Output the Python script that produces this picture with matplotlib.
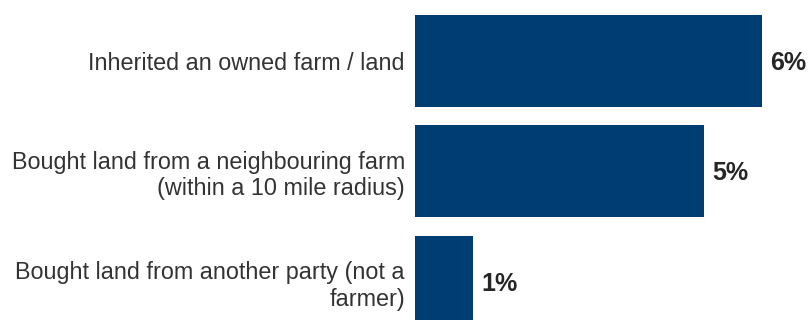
import matplotlib.pyplot as plt

# -------------------------------
# Data
# -------------------------------
categories = [
    "Inherited an owned farm / land",
    "Bought land from a neighbouring farm\n(within a 10 mile radius)",
    "Bought land from another party (not a\nfarmer)",
]
values = [6, 5, 1]
value_labels = ["6%", "5%", "1%"]

plt.rcParams["font.family"] = ["Liberation Sans", "DejaVu Sans"]

fig = plt.figure(figsize=(8.11, 3.2), dpi=100)
# axes start where the bars start; right edge at the figure edge
ax = fig.add_axes([414.7 / 811, 0, 1 - 414.7 / 811, 1])

pos = list(range(len(categories)))
ax.barh(pos, values, height=0.834, color="#003d73", edgecolor="none")

ax.set_xlim(0, (811 - 414.7) / 57.8)
ax.set_ylim((320 - 61) / 110.3, -61 / 110.3)

ax.set_yticks(pos)
ax.set_yticklabels(categories, fontsize=16.8, color="#333333")
ax.tick_params(axis="y", length=0, pad=7)
ax.set_xticks([])
for s in ax.spines.values():
    s.set_visible(False)

for p, v, lab in zip(pos, values, value_labels):
    ax.annotate(lab, xy=(v, p), xytext=(6.5, -1.5), textcoords="offset points",
                ha="left", va="center", fontsize=18, fontweight="bold",
                color="#262626")

fig.savefig("out.png", dpi=100)
